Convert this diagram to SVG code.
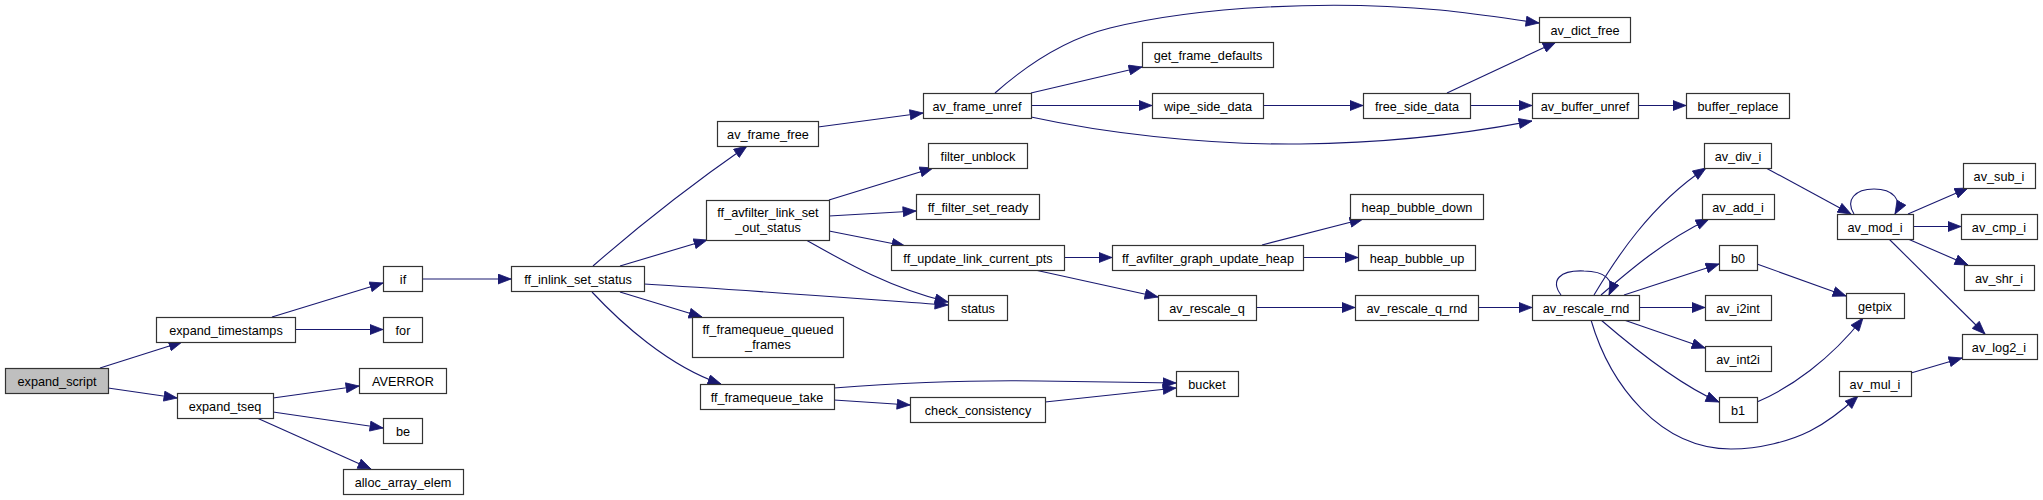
<svg xmlns="http://www.w3.org/2000/svg" width="2043" height="500" viewBox="0 0 2043 500">
<style>
.n rect{fill:#ffffff;stroke:#333333;stroke-width:1.2}
.n.cur rect{fill:#bfbfbf}
.n text{font-family:"Liberation Sans",Arial,sans-serif;font-size:12.7px;fill:#000000;text-anchor:middle}
#edges path{fill:none;stroke:#191970;stroke-width:1.1;marker-end:url(#ah)}
</style>
<defs>
<marker id="ah" markerUnits="userSpaceOnUse" markerWidth="14" markerHeight="11" viewBox="0 0 14 11" refX="13.5" refY="5.5" orient="auto">
<path d="M0.5,0.5 L13.5,5.5 L0.5,10.5 z" fill="#191970" stroke="#191970" stroke-width="0.8"/>
</marker>
</defs>
<rect width="2043" height="500" fill="#ffffff"/>
<g id="edges">
<path d="M100,368 L182,342"/>
<path d="M108,388 L177,398"/>
<path d="M272,317 L383,283"/>
<path d="M295,329.5 L383,329.5"/>
<path d="M273,398 L359,386"/>
<path d="M273,412 L383,428"/>
<path d="M257,418 L371,469"/>
<path d="M422,279 L511,279"/>
<path d="M593,266 C625,238 675,196 747,146"/>
<path d="M620,266 L707,240"/>
<path d="M644,284 C745,290 850,298 948,305"/>
<path d="M620,292 L702,317"/>
<path d="M592,292 C620,322 668,366 721,384"/>
<path d="M818,127 L923,113"/>
<path d="M829,200 L933,168"/>
<path d="M829,216 L916,211"/>
<path d="M829,231 L905,246"/>
<path d="M806,240 C845,262 890,288 948,302"/>
<path d="M995,93 C1030,62 1070,38 1110,28 C1200,6 1330,0 1440,10 C1480,14 1510,19 1539,23"/>
<path d="M1031,93 L1142,67"/>
<path d="M1031,105.5 L1152,105.5"/>
<path d="M1031,117 C1100,132 1200,145 1300,144 C1400,143 1480,131 1532,121"/>
<path d="M1263,105.5 L1363,105.5"/>
<path d="M1447,93 L1556,42"/>
<path d="M1470,105.5 L1532,105.5"/>
<path d="M1638,105.5 L1686,105.5"/>
<path d="M1064,257.5 L1112,257.5"/>
<path d="M1035,270 L1158,297"/>
<path d="M1262,245 L1363,219"/>
<path d="M1303,257.5 L1358,257.5"/>
<path d="M1256,307.5 L1355,307.5"/>
<path d="M1478,307.5 L1532,307.5"/>
<path d="M834,388 C900,383 980,380 1040,381 L1176,383"/>
<path d="M834,400 L910,405"/>
<path d="M1045,402 L1176,388"/>
<path d="M1561,295 C1550,280 1560,270 1584,271 C1604,271 1616,280 1609,295"/>
<path d="M1594,295 C1615,260 1650,205 1706,168"/>
<path d="M1601,295 C1630,270 1665,240 1709,219"/>
<path d="M1624,295 L1719,264"/>
<path d="M1639,307.5 L1705,307.5"/>
<path d="M1624,320 L1705,348"/>
<path d="M1601,320 C1630,345 1680,385 1719,402"/>
<path d="M1591,320 C1610,385 1660,449 1731,449 C1760,449 1790,441 1810,431 C1830,421 1845,408 1858,396"/>
<path d="M1766,168 L1851,214"/>
<path d="M1854,214 C1845,200 1855,189 1874,189 C1893,189 1903,200 1895,214"/>
<path d="M1908,214 L1968,188"/>
<path d="M1913,226.5 L1961,226.5"/>
<path d="M1908,239 L1968,265"/>
<path d="M1889,239 L1985,334"/>
<path d="M1757,264 L1846,296"/>
<path d="M1757,402 C1790,388 1830,360 1863,318"/>
<path d="M1911,373 L1962,358"/>
</g>
<g id="expand_script" class="n cur"><rect x="5.5" y="368.5" width="103" height="25"/><text x="57" y="385.5">expand_script</text></g>
<g id="expand_timestamps" class="n"><rect x="156.5" y="317.5" width="139" height="25"/><text x="226" y="334.5">expand_timestamps</text></g>
<g id="expand_tseq" class="n"><rect x="177.5" y="393.5" width="96" height="25"/><text x="225" y="410.5">expand_tseq</text></g>
<g id="if" class="n"><rect x="383.5" y="266.5" width="39" height="25"/><text x="403" y="283.5">if</text></g>
<g id="for" class="n"><rect x="383.5" y="317.5" width="39" height="25"/><text x="403" y="334.5">for</text></g>
<g id="AVERROR" class="n"><rect x="359.5" y="368.5" width="87" height="25"/><text x="403" y="385.5">AVERROR</text></g>
<g id="be" class="n"><rect x="383.5" y="418.5" width="39" height="25"/><text x="403" y="435.5">be</text></g>
<g id="alloc_array_elem" class="n"><rect x="343.5" y="469.5" width="120" height="25"/><text x="403" y="486.5">alloc_array_elem</text></g>
<g id="ff_inlink_set_status" class="n"><rect x="511.5" y="266.5" width="133" height="25"/><text x="578" y="283.5">ff_inlink_set_status</text></g>
<g id="av_frame_free" class="n"><rect x="717.5" y="121.5" width="101" height="25"/><text x="768" y="138.5">av_frame_free</text></g>
<g id="ff_avfilter_link_set_out_status" class="n"><rect x="706.5" y="200.5" width="123" height="40"/><text x="768" y="216.5">ff_avfilter_link_set</text><text x="768" y="231.5">_out_status</text></g>
<g id="ff_framequeue_queued_frames" class="n"><rect x="692.5" y="317.5" width="151" height="40"/><text x="768" y="333.5">ff_framequeue_queued</text><text x="768" y="348.5">_frames</text></g>
<g id="ff_framequeue_take" class="n"><rect x="700.5" y="384.5" width="134" height="25"/><text x="767" y="401.5">ff_framequeue_take</text></g>
<g id="av_frame_unref" class="n"><rect x="923.5" y="93.5" width="108" height="25"/><text x="977" y="110.5">av_frame_unref</text></g>
<g id="filter_unblock" class="n"><rect x="928.5" y="143.5" width="99" height="25"/><text x="978" y="160.5">filter_unblock</text></g>
<g id="ff_filter_set_ready" class="n"><rect x="916.5" y="194.5" width="123" height="25"/><text x="978" y="211.5">ff_filter_set_ready</text></g>
<g id="ff_update_link_current_pts" class="n"><rect x="891.5" y="245.5" width="173" height="25"/><text x="978" y="262.5">ff_update_link_current_pts</text></g>
<g id="status" class="n"><rect x="948.5" y="295.5" width="59" height="25"/><text x="978" y="312.5">status</text></g>
<g id="check_consistency" class="n"><rect x="910.5" y="397.5" width="135" height="25"/><text x="978" y="414.5">check_consistency</text></g>
<g id="get_frame_defaults" class="n"><rect x="1142.5" y="42.5" width="131" height="25"/><text x="1208" y="59.5">get_frame_defaults</text></g>
<g id="wipe_side_data" class="n"><rect x="1152.5" y="93.5" width="111" height="25"/><text x="1208" y="110.5">wipe_side_data</text></g>
<g id="free_side_data" class="n"><rect x="1363.5" y="93.5" width="107" height="25"/><text x="1417" y="110.5">free_side_data</text></g>
<g id="heap_bubble_down" class="n"><rect x="1350.5" y="194.5" width="133" height="25"/><text x="1417" y="211.5">heap_bubble_down</text></g>
<g id="ff_avfilter_graph_update_heap" class="n"><rect x="1112.5" y="245.5" width="191" height="25"/><text x="1208" y="262.5">ff_avfilter_graph_update_heap</text></g>
<g id="heap_bubble_up" class="n"><rect x="1358.5" y="245.5" width="117" height="25"/><text x="1417" y="262.5">heap_bubble_up</text></g>
<g id="av_rescale_q" class="n"><rect x="1158.5" y="295.5" width="98" height="25"/><text x="1207" y="312.5">av_rescale_q</text></g>
<g id="av_rescale_q_rnd" class="n"><rect x="1355.5" y="295.5" width="123" height="25"/><text x="1417" y="312.5">av_rescale_q_rnd</text></g>
<g id="bucket" class="n"><rect x="1176.5" y="371.5" width="62" height="25"/><text x="1207" y="388.5">bucket</text></g>
<g id="av_dict_free" class="n"><rect x="1539.5" y="17.5" width="91" height="25"/><text x="1585" y="34.5">av_dict_free</text></g>
<g id="av_buffer_unref" class="n"><rect x="1532.5" y="93.5" width="106" height="25"/><text x="1585" y="110.5">av_buffer_unref</text></g>
<g id="buffer_replace" class="n"><rect x="1686.5" y="93.5" width="103" height="25"/><text x="1738" y="110.5">buffer_replace</text></g>
<g id="av_rescale_rnd" class="n"><rect x="1532.5" y="295.5" width="107" height="25"/><text x="1586" y="312.5">av_rescale_rnd</text></g>
<g id="av_div_i" class="n"><rect x="1704.5" y="143.5" width="67" height="25"/><text x="1738" y="160.5">av_div_i</text></g>
<g id="av_add_i" class="n"><rect x="1702.5" y="194.5" width="72" height="25"/><text x="1738" y="211.5">av_add_i</text></g>
<g id="b0" class="n"><rect x="1719.5" y="245.5" width="38" height="25"/><text x="1738" y="262.5">b0</text></g>
<g id="av_i2int" class="n"><rect x="1705.5" y="295.5" width="66" height="25"/><text x="1738" y="312.5">av_i2int</text></g>
<g id="av_int2i" class="n"><rect x="1705.5" y="346.5" width="66" height="25"/><text x="1738" y="363.5">av_int2i</text></g>
<g id="b1" class="n"><rect x="1719.5" y="397.5" width="38" height="25"/><text x="1738" y="414.5">b1</text></g>
<g id="av_mod_i" class="n"><rect x="1837.5" y="214.5" width="76" height="25"/><text x="1875" y="231.5">av_mod_i</text></g>
<g id="getpix" class="n"><rect x="1846.5" y="293.5" width="58" height="25"/><text x="1875" y="310.5">getpix</text></g>
<g id="av_mul_i" class="n"><rect x="1839.5" y="371.5" width="72" height="25"/><text x="1875" y="388.5">av_mul_i</text></g>
<g id="av_sub_i" class="n"><rect x="1963.5" y="163.5" width="72" height="25"/><text x="1999" y="180.5">av_sub_i</text></g>
<g id="av_cmp_i" class="n"><rect x="1961.5" y="214.5" width="76" height="25"/><text x="1999" y="231.5">av_cmp_i</text></g>
<g id="av_shr_i" class="n"><rect x="1964.5" y="265.5" width="70" height="25"/><text x="1999" y="282.5">av_shr_i</text></g>
<g id="av_log2_i" class="n"><rect x="1962.5" y="334.5" width="75" height="25"/><text x="1999" y="351.5">av_log2_i</text></g>
</svg>
